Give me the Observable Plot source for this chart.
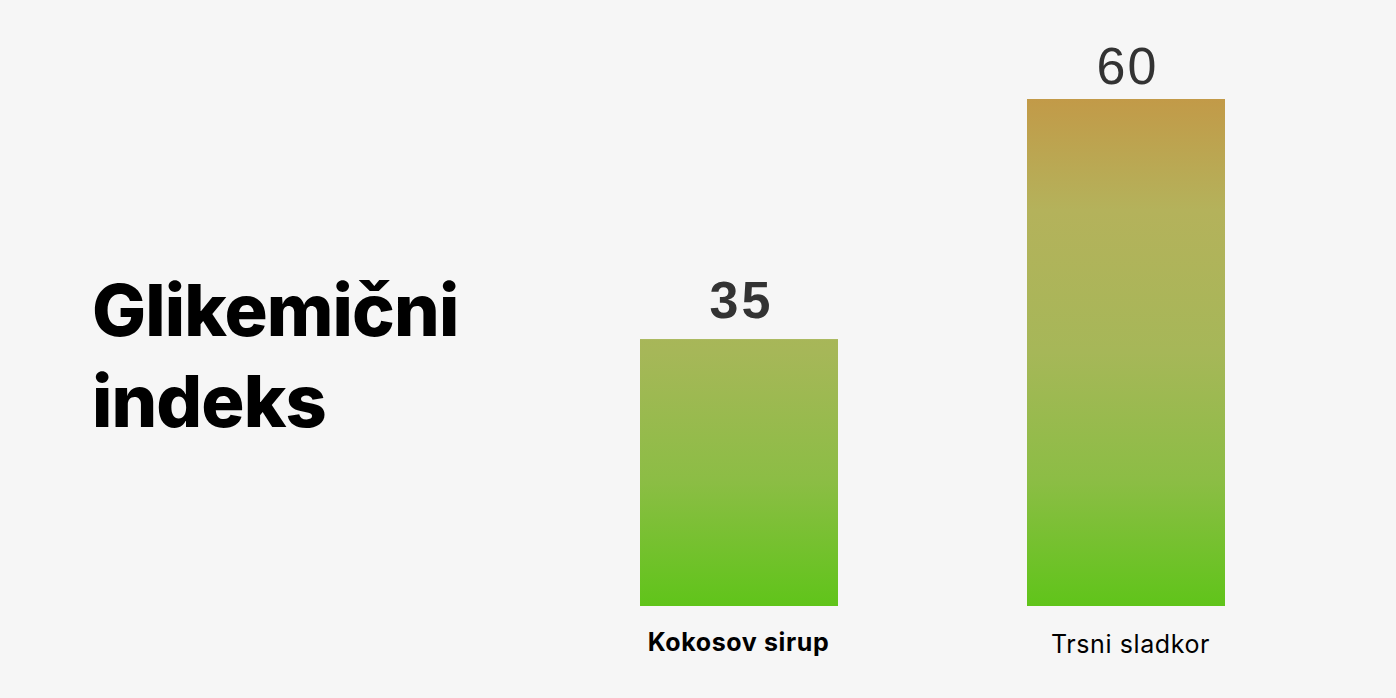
<!DOCTYPE html>
<html><head><meta charset="utf-8">
<script src="https://cdn.jsdelivr.net/npm/d3@7"></script>
<script src="https://cdn.jsdelivr.net/npm/@observablehq/plot@0.6"></script>
<style>
html,body{margin:0;padding:0;background:#f6f6f6;}
#wrap{position:relative;width:1396px;height:698px;overflow:hidden;background:#f6f6f6;}
#title{position:absolute;left:92px;top:264px;font-family:Inter,sans-serif;font-weight:800;font-size:72px;line-height:91px;letter-spacing:-0.9px;color:#000;white-space:nowrap;}
#chart{position:absolute;left:0;top:0;}
</style></head><body>
<div id="wrap"><div id="chart"></div><div id="title">Glikemični<br>indeks</div></div>
<script>
const categories = ["Kokosov sirup", "Trsni sladkor"];
const values = [35, 60];
const valueLabels = ["35", "60"];
const BASE = 7.2; // value at the bars' baseline
const data = categories.map((c, i) => ({category: c, value: values[i], label: valueLabels[i]}));

const chart = Plot.plot({
  width: 1396,
  height: 698,
  marginLeft: 545.5,
  marginRight: 76.5,
  marginTop: 0,
  marginBottom: 0,
  style: {background: "#f6f6f6", overflow: "visible"},
  x: {domain: categories, paddingInner: 0.4884, paddingOuter: 0.2442, round: false, axis: null},
  y: {domain: [BASE, 60], range: [606, 99], axis: null},
  marks: [
    Plot.barY(data, {x: "category", y1: BASE, y2: "value", fill: "url(#glGrad)"}),
    Plot.text(data.filter((d, i) => i === 0), {x: "category", y: "value", text: "label", fill: "#333", fontFamily: "Liberation Sans, Arial, sans-serif", fontWeight: 700, fontSize: 52, dy: -38.6, dx: 2}),
    Plot.text(data.filter((d, i) => i === 1), {x: "category", y: "value", text: "label", fill: "#333", fontFamily: "Liberation Sans, Arial, sans-serif", fontWeight: 400, fontSize: 52, dy: -32.6, dx: 1}),
    Plot.text(data.filter((d, i) => i === 0), {x: "category", y: BASE, text: "category", fill: "#000", fontFamily: "Inter, sans-serif", fontWeight: 700, fontSize: 25, dy: 36, dx: -1}),
    Plot.text(data.filter((d, i) => i === 1), {x: "category", y: BASE, text: "category", fill: "#000", fontFamily: "Inter, sans-serif", fontWeight: 400, fontSize: 25, dy: 38, dx: 4})
  ]
});

const ys = chart.scale("y");
const svg = d3.select(chart);
const grad = svg.insert("defs", ":first-child").append("linearGradient")
  .attr("id", "glGrad").attr("gradientUnits", "userSpaceOnUse")
  .attr("x1", 0).attr("x2", 0)
  .attr("y1", ys.apply(60)).attr("y2", ys.apply(BASE));
[[0, "#c29a48"], [0.22, "#b4b25b"], [0.5, "#a6b758"], [0.75, "#8cbd45"], [1, "#60c41a"]]
  .forEach(([o, c]) => grad.append("stop").attr("offset", o).attr("stop-color", c));

const spacing = ["3px", "2px", "0.6px", "0.6px"];
svg.selectAll("g[aria-label='text']").each(function(d, i) {
  d3.select(this).style("letter-spacing", spacing[i]);
});

document.getElementById("chart").appendChild(chart);
</script>
</body></html>
